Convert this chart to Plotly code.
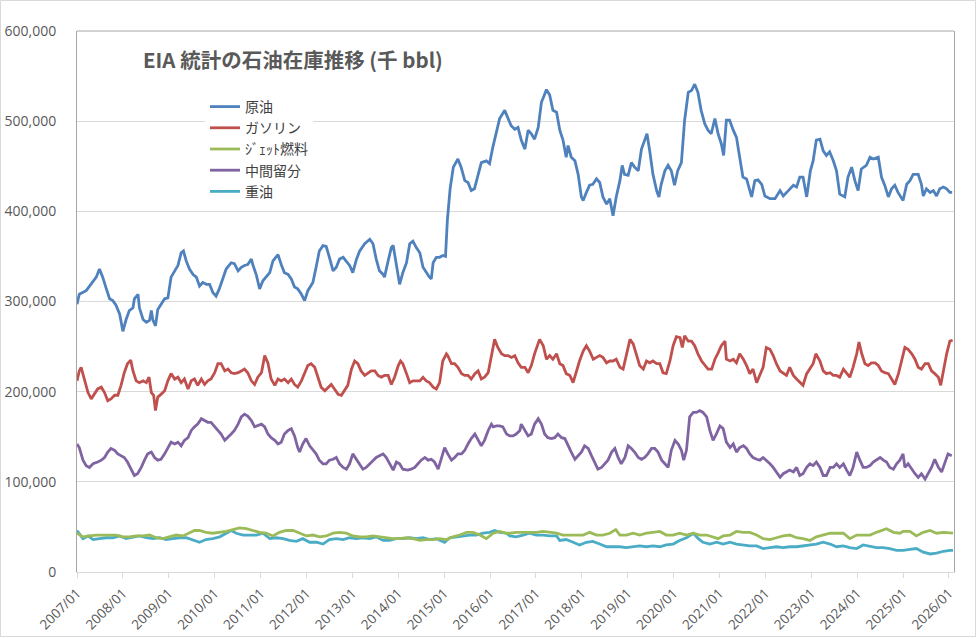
import plotly.graph_objects as go

# ---- data (values in million bbl = 1,000 x 千bbl; x in decimal years) ----
crude_t = [2007.00,2007.05,2007.20,2007.35,2007.42,2007.49,2007.56,2007.64,2007.71,2007.78,2007.85,2007.93,
           2008.00,2008.07,2008.14,2008.22,2008.25,2008.33,2008.36,2008.44,2008.51,2008.58,2008.62,2008.65,2008.71,2008.76,2008.83,2008.91,2008.98,
           2009.05,2009.13,2009.20,2009.27,2009.32,2009.38,2009.45,2009.53,2009.60,2009.67,2009.74,2009.82,2009.89,2009.96,
           2010.03,2010.10,2010.18,2010.25,2010.36,2010.43,2010.51,2010.58,2010.65,2010.72,2010.80,2010.83,2010.91,2010.98,
           2011.05,2011.12,2011.20,2011.27,2011.38,2011.45,2011.52,2011.60,2011.67,2011.74,2011.81,2011.89,2011.96,
           2012.03,2012.14,2012.21,2012.28,2012.36,2012.43,2012.50,2012.58,2012.65,2012.72,2012.80,2012.87,2012.94,
           2013.01,2013.09,2013.16,2013.27,2013.38,2013.45,2013.52,2013.59,2013.67,2013.70,2013.78,2013.85,2013.89,2013.96,
           2014.03,2014.10,2014.18,2014.25,2014.32,2014.39,2014.47,2014.54,2014.61,2014.68,2014.72,2014.76,2014.83,2014.90,2014.97,
           2015.03,2015.07,2015.13,2015.20,2015.30,2015.37,2015.45,2015.52,2015.59,2015.66,2015.74,2015.81,2015.92,2015.99,
           2016.06,2016.14,2016.21,2016.32,2016.39,2016.46,2016.54,2016.61,2016.68,2016.76,2016.83,2016.90,2016.97,
           2017.05,2017.12,2017.23,2017.30,2017.37,2017.45,2017.52,2017.59,2017.66,2017.70,2017.77,2017.85,2017.92,2017.99,
           2018.03,2018.10,2018.17,2018.24,2018.32,2018.39,2018.46,2018.54,2018.61,2018.68,2018.75,2018.83,2018.88,2018.93,
           2019.01,2019.08,2019.15,2019.23,2019.30,2019.37,2019.42,2019.48,2019.55,2019.63,2019.68,2019.73,2019.81,2019.88,2019.95,
           2020.02,2020.09,2020.17,2020.24,2020.32,2020.39,2020.46,2020.53,2020.60,2020.68,2020.75,2020.82,2020.90,2020.97,
           2021.04,2021.09,2021.15,2021.22,2021.30,2021.37,2021.44,2021.51,2021.59,2021.70,2021.77,2021.84,2021.92,2021.99,
           2022.10,2022.21,2022.32,2022.39,2022.50,2022.61,2022.68,2022.75,2022.82,2022.90,2022.98,
           2023.04,2023.11,2023.19,2023.26,2023.33,2023.40,2023.48,2023.55,2023.62,2023.73,2023.80,2023.88,2023.95,
           2024.02,2024.09,2024.20,2024.28,2024.35,2024.46,2024.53,2024.60,2024.68,2024.75,2024.82,2024.89,
           2025.00,2025.08,2025.15,2025.22,2025.33,2025.40,2025.44,2025.51,2025.59,2025.66,2025.73,2025.80,2025.88,2025.95,2026.02,2026.07]
crude_v = [297,308,312,323,327,336,327,314,303,301,296,286,
           267,280,290,293,303,308,293,280,277,279,290,280,273,291,297,303,304,
           327,334,340,354,356,345,336,330,327,317,321,319,319,310,
           306,314,327,336,343,342,334,338,340,341,347,341,329,314,
           323,327,332,345,352,341,332,330,325,316,314,308,301,
           312,321,338,356,362,361,349,334,338,347,349,345,340,
           332,347,356,364,369,364,347,334,330,327,345,360,362,338,
           319,332,343,364,367,360,354,338,332,327,325,343,349,349,351,
           350,390,425,449,458,449,434,432,423,425,441,454,456,453,
           471,490,503,512,504,495,491,493,479,469,490,486,480,
           493,521,535,529,512,510,490,479,460,473,460,456,441,416,
           412,421,429,430,436,432,416,408,414,395,416,434,451,441,
           440,454,449,445,469,479,486,467,441,423,416,430,445,451,445,
           429,445,454,501,532,534,541,532,512,497,490,486,503,486,
           475,462,501,501,490,482,460,438,436,416,434,435,430,417,
           414,414,423,417,423,429,427,438,438,416,445,
           456,479,480,467,462,466,456,445,419,416,438,449,434,
           423,447,451,460,458,460,438,429,416,425,429,421,
           412,430,434,441,441,430,417,425,421,423,417,425,427,425,421,421]

gasoline_t = [2007.00,2007.05,2007.09,2007.16,2007.24,2007.31,2007.38,2007.45,2007.53,2007.60,2007.67,2007.74,2007.82,2007.89,2007.96,
              2008.03,2008.10,2008.17,2008.22,2008.29,2008.36,2008.44,2008.51,2008.57,2008.62,2008.67,2008.71,2008.76,2008.83,2008.91,2008.98,
              2009.05,2009.13,2009.20,2009.27,2009.34,2009.42,2009.49,2009.56,2009.63,2009.71,2009.78,2009.85,2009.92,
              2010.00,2010.07,2010.14,2010.22,2010.29,2010.36,2010.43,2010.51,2010.58,2010.65,2010.72,2010.80,2010.87,2010.94,
              2011.02,2011.09,2011.16,2011.23,2011.31,2011.38,2011.45,2011.52,2011.60,2011.67,2011.74,2011.81,2011.89,2011.96,
              2012.03,2012.10,2012.18,2012.25,2012.32,2012.40,2012.47,2012.54,2012.61,2012.69,2012.76,2012.83,2012.90,2012.98,
              2013.05,2013.12,2013.19,2013.27,2013.34,2013.41,2013.49,2013.56,2013.63,2013.70,2013.78,2013.85,2013.92,
              2014.00,2014.05,2014.10,2014.18,2014.25,2014.32,2014.39,2014.47,2014.54,2014.61,2014.68,2014.76,2014.83,2014.90,2014.97,
              2015.05,2015.08,2015.16,2015.23,2015.30,2015.38,2015.45,2015.52,2015.59,2015.67,2015.74,2015.81,2015.88,2015.96,
              2016.03,2016.10,2016.17,2016.25,2016.32,2016.39,2016.47,2016.54,2016.61,2016.68,2016.76,2016.83,2016.90,2016.97,
              2017.08,2017.16,2017.23,2017.30,2017.37,2017.45,2017.52,2017.59,2017.66,2017.74,2017.81,2017.88,2017.95,
              2018.03,2018.10,2018.17,2018.25,2018.32,2018.39,2018.46,2018.54,2018.61,2018.68,2018.75,2018.83,2018.90,2018.97,
              2019.05,2019.12,2019.19,2019.26,2019.34,2019.41,2019.48,2019.55,2019.63,2019.70,2019.77,2019.84,2019.92,2019.99,
              2020.06,2020.14,2020.19,2020.24,2020.32,2020.39,2020.46,2020.53,2020.61,2020.68,2020.75,2020.83,2020.90,2020.97,
              2021.04,2021.12,2021.15,2021.23,2021.30,2021.37,2021.44,2021.52,2021.59,2021.66,2021.73,2021.81,2021.88,2021.95,
              2022.02,2022.10,2022.17,2022.24,2022.32,2022.39,2022.46,2022.53,2022.61,2022.68,2022.75,2022.82,2022.90,2022.97,
              2023.04,2023.10,2023.19,2023.26,2023.33,2023.41,2023.48,2023.55,2023.62,2023.70,2023.77,2023.84,2023.91,2023.99,
              2024.04,2024.10,2024.17,2024.24,2024.31,2024.39,2024.46,2024.53,2024.60,2024.68,2024.75,2024.82,2024.90,2024.97,
              2025.04,2025.11,2025.19,2025.26,2025.33,2025.40,2025.48,2025.55,2025.62,2025.69,2025.77,2025.82,2025.88,2025.95,2026.02,2026.08]
gasoline_v = [212,223,227,214,199,192,197,203,205,199,190,192,196,196,207,
              221,231,235,223,212,210,212,210,216,199,196,179,194,197,201,212,
              220,214,216,210,214,203,212,214,207,214,208,212,214,
              221,231,231,223,225,221,220,221,223,225,221,212,208,216,
              221,240,232,214,207,214,212,214,210,214,208,205,212,220,
              229,231,227,216,205,201,205,208,203,197,196,201,207,225,
              234,231,223,218,221,223,223,218,216,218,218,208,216,
              229,234,231,220,210,212,212,212,216,212,210,205,203,210,234,
              242,240,231,231,227,220,218,218,214,220,223,214,216,221,
              242,258,249,242,240,240,238,240,232,227,227,221,229,242,
              258,251,236,240,236,242,231,229,220,218,210,223,234,
              245,251,245,236,238,240,238,232,234,234,236,227,225,242,
              258,253,242,229,225,234,232,234,231,231,221,220,234,251,
              261,260,249,262,256,256,251,242,234,229,225,225,236,243,
              251,256,236,234,236,232,242,236,229,220,225,210,218,227,
              249,247,240,231,223,220,218,227,218,214,210,207,220,225,
              231,242,234,223,220,221,218,218,216,225,221,216,227,242,
              255,242,231,229,232,232,229,223,221,220,214,208,220,234,
              249,247,242,236,227,225,231,231,223,220,216,207,223,242,256,257]

jet_t = [2007.00,2007.13,2007.27,2007.42,2007.56,2007.71,2007.85,2008.00,2008.14,2008.29,2008.44,2008.58,2008.73,2008.87,
         2009.02,2009.16,2009.31,2009.45,2009.56,2009.67,2009.81,2009.96,2010.11,2010.25,2010.40,2010.54,2010.69,2010.83,2010.98,
         2011.12,2011.27,2011.41,2011.56,2011.71,2011.85,2012.00,2012.14,2012.29,2012.43,2012.58,2012.72,2012.87,
         2013.01,2013.16,2013.30,2013.45,2013.60,2013.74,2013.89,2014.03,2014.18,2014.32,2014.47,2014.61,2014.76,2014.90,
         2015.05,2015.19,2015.34,2015.49,2015.63,2015.78,2015.92,2016.07,2016.21,2016.36,2016.43,2016.57,2016.72,2016.86,
         2017.01,2017.16,2017.30,2017.45,2017.59,2017.74,2017.88,2018.03,2018.17,2018.32,2018.46,2018.61,2018.74,2018.83,2018.97,
         2019.12,2019.26,2019.41,2019.55,2019.70,2019.84,2019.99,2020.13,2020.28,2020.43,2020.57,2020.72,2020.86,2020.97,
         2021.08,2021.23,2021.37,2021.52,2021.66,2021.81,2021.95,2022.10,2022.24,2022.39,2022.53,2022.68,2022.82,2022.97,
         2023.11,2023.26,2023.41,2023.55,2023.70,2023.84,2023.99,2024.13,2024.28,2024.42,2024.53,2024.64,2024.79,2024.93,
         2025.00,2025.15,2025.29,2025.44,2025.59,2025.73,2025.88,2026.02,2026.09]
jet_v = [43,39,40,41,41,41,41,39,39,40,40,41,38,37,
         39,41,40,43,46,46,44,43,44,45,47,49,48,46,44,
         43,40,44,46,46,43,40,41,39,40,43,44,43,
         40,39,39,40,39,38,37,37,38,37,35,36,36,37,
         36,39,41,44,44,41,37,43,45,43,43,44,44,44,
         44,45,44,43,41,41,41,41,44,41,41,43,47,41,41,
         43,41,43,44,45,41,41,43,41,43,41,41,39,37,
         40,41,45,44,44,41,37,36,38,40,41,38,37,35,
         39,41,43,43,43,37,41,41,41,44,46,48,44,43,
         45,45,40,44,46,43,44,43,43]

distillate_t = [2007.00,2007.05,2007.13,2007.20,2007.27,2007.35,2007.45,2007.53,2007.60,2007.67,2007.74,2007.82,2007.89,2007.96,
                2008.03,2008.10,2008.18,2008.25,2008.32,2008.40,2008.47,2008.54,2008.62,2008.69,2008.76,2008.83,2008.91,2008.98,
                2009.05,2009.13,2009.20,2009.27,2009.34,2009.42,2009.49,2009.56,2009.63,2009.71,2009.78,2009.85,2009.92,
                2010.00,2010.07,2010.14,2010.22,2010.29,2010.36,2010.43,2010.51,2010.58,2010.65,2010.72,2010.80,2010.87,2010.94,
                2011.02,2011.09,2011.16,2011.23,2011.31,2011.38,2011.45,2011.52,2011.60,2011.67,2011.74,2011.81,2011.85,2011.92,2011.99,
                2012.07,2012.14,2012.21,2012.28,2012.36,2012.43,2012.50,2012.58,2012.65,2012.72,2012.80,2012.87,2012.94,
                2013.01,2013.09,2013.16,2013.23,2013.30,2013.38,2013.45,2013.52,2013.59,2013.67,2013.74,2013.81,2013.89,2013.96,
                2014.03,2014.10,2014.21,2014.28,2014.36,2014.43,2014.50,2014.58,2014.65,2014.72,2014.79,2014.87,2014.94,
                2015.01,2015.08,2015.16,2015.23,2015.30,2015.38,2015.45,2015.52,2015.59,2015.67,2015.74,2015.81,2015.88,2015.96,
                2016.03,2016.07,2016.14,2016.21,2016.28,2016.36,2016.43,2016.50,2016.57,2016.65,2016.68,2016.76,2016.83,2016.90,2016.97,
                2017.05,2017.12,2017.19,2017.26,2017.34,2017.41,2017.48,2017.56,2017.63,2017.70,2017.77,2017.85,2017.92,2017.99,
                2018.06,2018.14,2018.21,2018.28,2018.35,2018.43,2018.50,2018.57,2018.65,2018.72,2018.79,2018.86,2018.94,
                2019.01,2019.08,2019.15,2019.23,2019.30,2019.37,2019.44,2019.52,2019.59,2019.66,2019.74,2019.81,2019.88,2019.95,
                2020.03,2020.10,2020.17,2020.22,2020.28,2020.35,2020.43,2020.50,2020.57,2020.64,2020.72,2020.79,2020.86,2020.93,
                2021.01,2021.08,2021.15,2021.23,2021.30,2021.37,2021.44,2021.52,2021.59,2021.66,2021.73,2021.81,2021.88,2021.95,
                2022.02,2022.10,2022.17,2022.24,2022.32,2022.39,2022.46,2022.53,2022.61,2022.68,2022.75,2022.82,2022.90,2022.97,
                2023.04,2023.11,2023.19,2023.26,2023.33,2023.41,2023.48,2023.55,2023.62,2023.70,2023.77,2023.84,2023.91,2023.99,
                2024.06,2024.13,2024.20,2024.28,2024.35,2024.42,2024.50,2024.57,2024.64,2024.71,2024.79,2024.86,2024.93,
                2025.00,2025.04,2025.11,2025.19,2025.26,2025.33,2025.40,2025.48,2025.55,2025.62,2025.69,2025.77,2025.84,2025.91,2025.98,2026.06]
distillate_v = [142,138,124,118,116,120,122,124,127,133,137,135,131,129,
                127,122,114,107,109,116,124,131,133,127,124,125,131,138,
                144,142,144,140,146,149,157,161,164,170,168,166,166,
                161,157,153,146,149,153,157,164,172,175,173,168,161,162,
                164,161,153,149,146,142,144,153,157,159,151,138,133,142,148,
                140,135,131,124,120,120,124,125,127,120,116,114,120,
                131,125,120,114,116,120,124,127,129,131,127,120,113,122,
                120,114,113,114,116,120,124,127,124,125,122,114,125,
                138,131,124,127,131,131,135,142,148,153,146,140,146,157,
                164,161,162,162,161,153,151,151,153,157,164,157,151,153,164,
                170,164,153,149,148,149,153,149,148,140,133,125,129,133,
                140,137,129,122,114,116,120,124,133,137,127,120,127,
                140,137,133,127,125,127,131,137,137,133,124,120,116,135,
                146,142,135,124,135,172,177,177,179,177,172,157,146,153,
                162,159,144,138,142,133,138,140,137,131,127,125,124,127,
                124,120,116,111,105,109,111,113,111,116,107,109,116,120,
                118,122,116,107,107,116,116,120,116,120,113,107,116,133,
                124,116,116,118,122,124,127,124,122,116,114,120,124,
                131,116,120,114,109,105,109,103,109,116,125,116,111,120,131,129]

residual_t = [2007.00,2007.05,2007.13,2007.24,2007.35,2007.49,2007.64,2007.78,2007.93,2008.07,2008.22,2008.36,2008.51,2008.65,2008.80,2008.94,
              2009.09,2009.23,2009.38,2009.53,2009.67,2009.81,2009.96,2010.11,2010.25,2010.36,2010.47,2010.62,2010.76,2010.91,
              2011.05,2011.20,2011.34,2011.49,2011.63,2011.78,2011.92,2012.07,2012.22,2012.36,2012.50,2012.65,2012.80,2012.94,
              2013.09,2013.23,2013.38,2013.52,2013.67,2013.81,2013.96,2014.10,2014.25,2014.39,2014.54,2014.69,2014.83,
              2015.01,2015.12,2015.27,2015.41,2015.56,2015.70,2015.85,2015.99,2016.10,2016.21,2016.36,2016.43,2016.57,2016.72,2016.86,
              2017.01,2017.16,2017.30,2017.45,2017.52,2017.66,2017.81,2017.95,2018.10,2018.24,2018.39,2018.54,2018.68,2018.83,2018.97,
              2019.12,2019.26,2019.41,2019.55,2019.70,2019.84,2019.99,2020.13,2020.28,2020.43,2020.54,2020.64,2020.79,2020.94,
              2021.08,2021.23,2021.37,2021.52,2021.66,2021.81,2021.95,2022.10,2022.24,2022.39,2022.53,2022.68,2022.82,2022.97,
              2023.11,2023.26,2023.41,2023.55,2023.70,2023.84,2023.99,2024.13,2024.28,2024.42,2024.57,2024.71,2024.86,
              2025.00,2025.15,2025.29,2025.44,2025.59,2025.73,2025.88,2026.02,2026.09]
residual_v = [46,43,37,40,36,37,38,38,40,37,39,40,38,37,38,36,
              37,38,38,35,33,36,37,39,43,46,43,41,41,41,
              43,37,38,37,35,34,37,33,33,31,36,37,36,38,
              37,38,37,39,35,35,37,37,38,37,38,36,37,
              33,38,39,40,41,41,43,44,46,44,43,40,39,41,43,
              41,41,40,40,35,36,33,30,33,34,31,28,28,28,27,
              28,29,28,29,28,30,31,35,38,43,37,33,31,33,
              31,33,31,30,29,29,26,27,28,27,28,28,29,30,
              31,33,31,28,29,27,26,30,28,27,27,26,24,
              24,25,26,22,20,21,23,24,24]

series_names = ["原油", "ガソリン", "ｼﾞｪｯﾄ燃料", "中間留分", "重油"]
series_colors = ["#4F81BD", "#C0504D", "#9BBB59", "#8064A2", "#4BACC6"]
tick_years = list(range(2007, 2027))
tick_labels = [f"{y}/01" for y in tick_years]
y_ticks = [0, 100000, 200000, 300000, 400000, 500000, 600000]
title_text = "EIA 統計の石油在庫推移 (千 bbl)"

series = [(crude_t, crude_v), (gasoline_t, gasoline_v), (jet_t, jet_v),
          (distillate_t, distillate_v), (residual_t, residual_v)]

fig = go.Figure()
# draw order: residual/jet at bottom, crude on top like the original
for idx in [4, 2, 3, 1, 0]:
    t, v = series[idx]
    fig.add_trace(go.Scatter(
        x=t, y=[val * 1000 for val in v], mode="lines",
        name=series_names[idx], legendrank=idx + 1,
        line=dict(color=series_colors[idx], width=2.8),
        hoverinfo="skip"))

W, H = 977, 638
L, R, T, B = 77, 23, 31, 66
pw, ph = W - L - R, H - T - B
font_main = "Noto Sans CJK JP, Noto Sans, sans-serif"

fig.update_layout(
    width=W, height=H,
    margin=dict(l=L, r=R, t=T, b=B, pad=0, autoexpand=False),
    paper_bgcolor="white", plot_bgcolor="white",
    font=dict(family=font_main, color="#595959", size=13),
    showlegend=True,
    legend=dict(
        x=(205 - L) / pw, y=1 - (91 - T) / ph, xanchor="left", yanchor="top",
        bgcolor="white", borderwidth=0,
        font=dict(size=14, color="#404040", family=font_main),
        tracegroupgap=0, itemwidth=30,
    ),
    xaxis=dict(
        range=[2007.0, 2026.11], tickmode="array",
        tickvals=tick_years, ticktext=tick_labels, tickangle=-45,
        showgrid=False, zeroline=False, automargin=False,
        showline=True, linecolor="#D9D9D9", linewidth=1,
        ticks="outside", ticklen=5, tickcolor="#D9D9D9",
        ticklabelstandoff=2,
        tickfont=dict(size=13.5, color="#595959", family="Open Sans, sans-serif"),
    ),
    yaxis=dict(
        range=[0, 600000], tickmode="array", tickvals=y_ticks,
        tickformat=",", showgrid=True, gridcolor="#D9D9D9", gridwidth=1,
        zeroline=False, showline=True, linecolor="#A6A6A6", linewidth=1, mirror=True,
        ticks="", ticklabelstandoff=17, automargin=False,
        tickfont=dict(size=14, color="#595959", family="Open Sans, sans-serif"),
    ),
)

# title inside plot area
fig.add_annotation(
    text="<b>" + title_text + "</b>", xref="paper", yref="paper",
    x=(141 - L) / pw, y=1 - (59 - T) / ph, xanchor="left", yanchor="middle",
    showarrow=False, font=dict(size=20.5, color="#595959", family=font_main))

# plot-area top border
fig.add_shape(type="line", xref="paper", yref="paper", x0=0, x1=1, y0=1, y1=1,
              line=dict(color="#A6A6A6", width=1))
# outer chart border
fig.add_shape(type="rect", xref="paper", yref="paper",
              x0=(0.5 - L) / pw, x1=(W - 1.5 - L) / pw,
              y0=1 - (H - 1.5 - T) / ph, y1=1 - (0.5 - T) / ph,
              line=dict(color="#D9D9D9", width=1), layer="below")

fig.write_html("out.html",
               config={"displayModeBar": False},
               post_script="document.body.style.margin='0';document.body.style.overflow='hidden';")
